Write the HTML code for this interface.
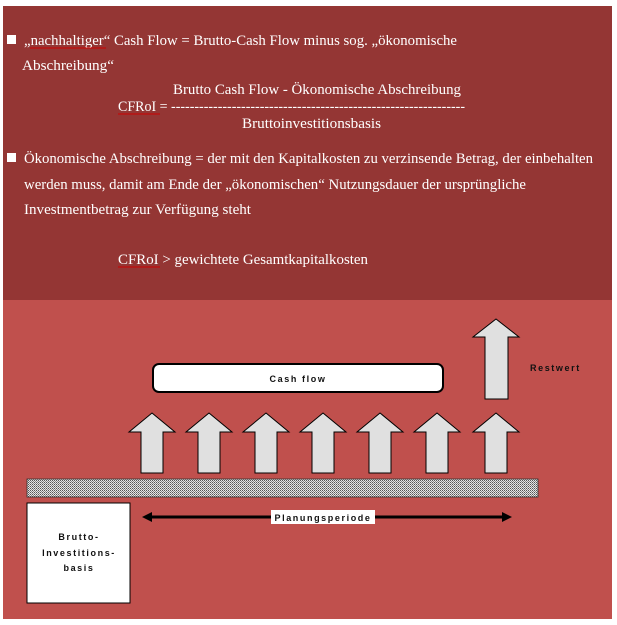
<!DOCTYPE html>
<html><head><meta charset="utf-8"><style>
html,body{margin:0;padding:0;background:#fff;}
svg{display:block;}
.t{font-family:"Liberation Serif",serif;font-size:14.5px;fill:#fff;}
.a{font-family:"Liberation Sans",sans-serif;font-size:9px;font-weight:bold;letter-spacing:1.6px;fill:#111;}
</style></head><body>
<svg width="617" height="625" viewBox="0 0 617 625" xmlns="http://www.w3.org/2000/svg">
<defs>
<pattern id="dots" width="2" height="2" patternUnits="userSpaceOnUse">
<rect width="2" height="2" fill="#e6e6e6"/><rect width="1" height="1" fill="#555"/><rect x="1" y="1" width="1" height="1" fill="#888"/>
</pattern>
<g id="arr"><path d="M0,0 L23,19 L11,19 L11,60 L-11,60 L-11,19 L-23,19 Z" fill="#e0e0e0" stroke="#000" stroke-width="1"/></g>
</defs>
<rect x="3" y="6" width="609" height="294" fill="#943634"/>
<rect x="3" y="300" width="609" height="319" fill="#c0504d"/>
<rect x="7" y="35" width="9" height="9" fill="#fff"/>
<text class="t" x="24" y="45" textLength="433" lengthAdjust="spacingAndGlyphs">„nachhaltiger“ Cash Flow = Brutto-Cash Flow minus sog. „ökonomische</text>
<text class="t" x="22" y="70" textLength="92" lengthAdjust="spacingAndGlyphs">Abschreibung“</text>
<text class="t" x="173" y="94" textLength="288" lengthAdjust="spacingAndGlyphs">Brutto Cash Flow - Ökonomische Abschreibung</text>
<text class="t" x="118" y="111" textLength="347" lengthAdjust="spacingAndGlyphs">CFRoI = ---------------------------------------------------------------</text>
<text class="t" x="242" y="128" textLength="139" lengthAdjust="spacingAndGlyphs">Bruttoinvestitionsbasis</text>
<rect x="7" y="153" width="9" height="9" fill="#fff"/>
<text class="t" x="24" y="163" textLength="569" lengthAdjust="spacingAndGlyphs">Ökonomische Abschreibung = der mit den Kapitalkosten zu verzinsende Betrag, der einbehalten</text>
<text class="t" x="24" y="189" textLength="502" lengthAdjust="spacingAndGlyphs">werden muss, damit am Ende der „ökonomischen“ Nutzungsdauer der ursprüngliche</text>
<text class="t" x="24" y="214" textLength="227" lengthAdjust="spacingAndGlyphs">Investmentbetrag zur Verfügung steht</text>
<text class="t" x="118" y="264" textLength="250" lengthAdjust="spacingAndGlyphs">CFRoI &gt; gewichtete Gesamtkapitalkosten</text>
<g stroke="#c00" stroke-width="1">
<line x1="30" y1="48" x2="106" y2="48"/><line x1="118" y1="114" x2="160" y2="114"/><line x1="118" y1="267" x2="160" y2="267"/>
</g>
<rect x="153" y="364" width="290" height="28" rx="6" fill="#fff" stroke="#000" stroke-width="2"/>
<text class="a" x="298" y="382" text-anchor="middle">Cash flow</text>
<text class="a" x="530" y="371">Restwert</text>
<path d="M496,319 L519,337 L508,337 L508,399 L485,399 L485,337 L473,337 Z" fill="#e0e0e0" stroke="#000"/>
<use href="#arr" x="152" y="413"/>
<use href="#arr" x="209" y="413"/>
<use href="#arr" x="266" y="413"/>
<use href="#arr" x="323" y="413"/>
<use href="#arr" x="380" y="413"/>
<use href="#arr" x="437" y="413"/>
<use href="#arr" x="496" y="413"/>
<rect x="27" y="479" width="511" height="18" fill="url(#dots)" stroke="#333" stroke-width="0.8"/>
<rect x="27" y="503" width="103" height="100" fill="#fff" stroke="#000"/>
<text class="a" x="79" y="540" text-anchor="middle">Brutto-</text>
<text class="a" x="79" y="556" text-anchor="middle">Investitions-</text>
<text class="a" x="79" y="571" text-anchor="middle">basis</text>
<line x1="150" y1="517" x2="503" y2="517" stroke="#000" stroke-width="3"/>
<path d="M142,517 L152,512 L152,522 Z M512,517 L502,512 L502,522 Z" fill="#000"/>
<rect x="271" y="510" width="104" height="14" fill="#fff"/>
<text class="a" x="323" y="521" text-anchor="middle">Planungsperiode</text>
</svg>
</body></html>
